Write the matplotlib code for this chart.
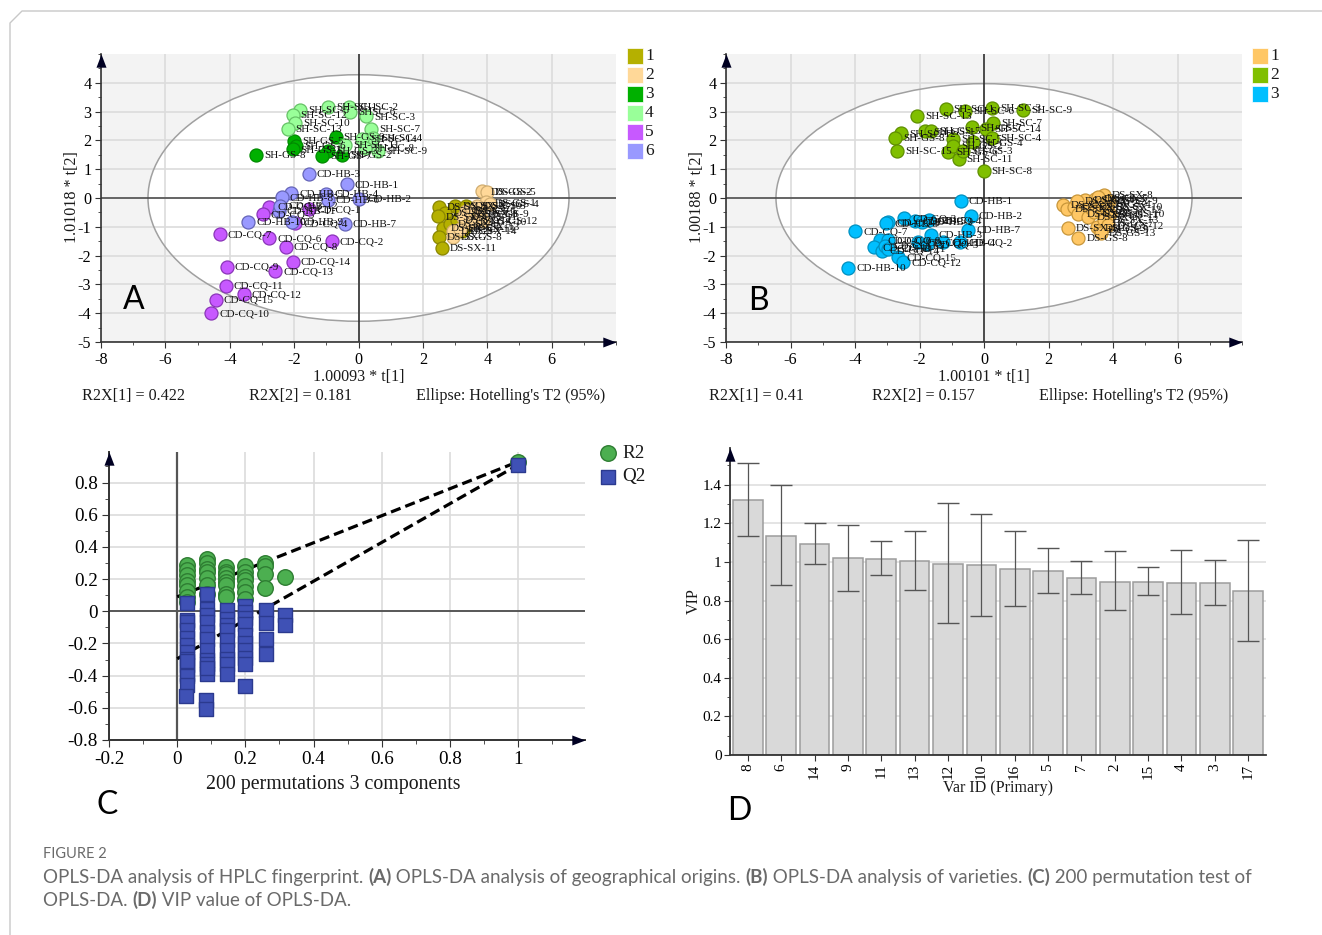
import matplotlib
matplotlib.use("Agg")
import matplotlib.pyplot as plt
from matplotlib.patches import Ellipse, Rectangle
from matplotlib.ticker import MultipleLocator, FuncFormatter

W, H = 1322, 935
SERIF = "Liberation Serif"
SANS = "Lato"
plt.rcParams["font.family"] = SERIF
plt.rcParams["axes.unicode_minus"] = False

# ---------------- Panel A ----------------
a_ds1_x = [2.49, 3.0, 2.7, 2.47, 3.43, 2.62, 2.83, 2.49, 2.59, 3.14, 3.35, 3.05, 3.3, 3.2]
a_ds1_y = [-0.3, -0.27, -0.53, -0.64, -0.55, -1.05, -0.9, -1.36, -1.72, -0.44, -0.27, -0.75, -1.0, -1.15]
a_ds1_l = ["DS-SX-1", "DS-SX-2", "DS-SX-3", "DS-SX-4", "DS-SX-8", "DS-SX-5", "DS-SX-6", "DS-SX-7", "DS-SX-11", "DS-SX-9", "DS-SX-10", "DS-SX-12", "DS-SX-13", "DS-SX-14"]
a_ds2_x = [3.85, 3.99, 3.97, 3.68, 3.35, 2.93, 2.93, 3.76, 4.07, 3.86, 3.5, 3.24, 3.14]
a_ds2_y = [0.23, 0.2, -0.15, -0.27, -0.44, -1.36, -1.13, -0.55, -0.2, -0.79, -0.84, -0.67, -1.07]
a_ds2_l = ["DS-GS-2", "DS-GS-5", "DS-GS-1", "DS-GS-3", "DS-GS-6", "DS-GS-8", "DS-GS-7", "DS-GS-9", "DS-GS-4", "DS-GS-12", "DS-GS-10", "DS-GS-11", "DS-GS-13"]
a_gs_x = [-0.71, -1.99, -1.95, -2.05, -0.95, -1.14, -0.5, -3.18]
a_gs_y = [2.13, 1.99, 1.82, 1.69, 1.64, 1.47, 1.49, 1.5]
a_gs_l = ["SH-GS-9", "SH-GS-5", "SH-GS-6", "SH-GS-1", "SH-GS-3", "SH-GS-7", "SH-GS-2", "SH-GS-8"]
a_sc_x = [-1.81, -2.05, -0.95, -0.28, -0.26, 0.24, -1.97, -2.2, 0.38, 0.46, 0.1, 0.62, -0.42, 0.2]
a_sc_y = [3.07, 2.89, 3.17, 3.17, 2.99, 2.83, 2.6, 2.39, 2.39, 2.1, 2.05, 1.64, 1.85, 1.75]
a_sc_l = ["SH-SC-5", "SH-SC-12", "SH-SC-1", "SH-SC-2", "SHSC-6", "SH-SC-3", "SH-SC-10", "SH-SC-13", "SH-SC-7", "SH-SC-4", "SH-SC-14", "SH-SC-9", "SH-SC-11", "SH-SC-8"]
a_cq_x = [-2.77, -2.98, -1.55, -1.97, -4.31, -2.77, -0.83, -2.26, -2.05, -4.09, -2.58, -4.12, -3.56, -4.43, -4.57]
a_cq_y = [-0.3, -0.55, -0.38, -0.88, -1.26, -1.4, -1.5, -1.69, -2.21, -2.38, -2.53, -3.04, -3.33, -3.53, -3.99]
a_cq_l = ["CD-CQ-3", "CD-CQ-5", "CD-CQ-1", "CD-CQ-4", "CD-CQ-7", "CD-CQ-6", "CD-CQ-2", "CD-CQ-8", "CD-CQ-14", "CD-CQ-9", "CD-CQ-13", "CD-CQ-11", "CD-CQ-12", "CD-CQ-15", "CD-CQ-10"]
a_hb_x = [-1.55, -0.36, -2.09, -2.38, -1.01, -0.95, 0.02, -2.48, -3.42, -2.07, -0.43, -2.43]
a_hb_y = [0.83, 0.47, 0.16, 0.02, 0.14, -0.07, -0.03, -0.44, -0.84, -0.84, -0.9, -0.27]
a_hb_l = ["CD-HB-3", "CD-HB-1", "CD-HB-5", "CD-HB-8", "CD-HB-4", "CD-HB-6", "CD-HB-2", "CD-HB-11", "CD-HB-10", "CD-HB-9", "CD-HB-7", "CD-HB-12"]
a_colors = ["#b5b000", "#ffd898", "#00b000", "#99ff99", "#c759ff", "#9999ff"]
a_edges = ["#8a8600", "#d0ad70", "#008a00", "#66c266", "#8a35b8", "#6565b8"]
a_legend = ["1", "2", "3", "4", "5", "6"]

# ---------------- Panel B ----------------
b_ds_x = [2.44, 2.57, 2.78, 3.14, 2.88, 3.45, 3.71, 3.55, 2.59, 2.93, 2.93, 3.24, 3.5, 3.3, 3.66, 3.87, 3.4, 3.7, 3.75, 3.6, 3.8, 3.82, 3.9, 3.72, 3.85, 3.62]
b_ds_y = [-0.24, -0.38, -0.32, -0.07, -0.09, -0.03, 0.1, 0.02, -1.04, -1.39, -0.55, -0.67, -1.02, -0.32, -0.2, -0.09, -0.5, -0.6, -0.85, -1.1, -0.4, -0.3, -0.55, -0.75, -0.95, -1.2]
b_ds_l = ["DS-SX-1", "DS-SX-2", "DS-SX-3", "DS-GS-1", "DS-SX-4", "DS-GS-2", "DS-SX-8", "DS-GS-5", "DS-SX-11", "DS-GS-8", "DS-SX-5", "DS-SX-6", "DS-GS-3", "DS-SX-7", "DS-GS-4", "DS-SX-9", "DS-GS-6", "DS-GS-11", "DS-GS-7", "DS-GS-9", "DS-SX-12", "DS-SX-10", "DS-GS-10", "DS-SX-13", "DS-GS-12", "DS-GS-13"]
b_sh_x = [-1.19, -0.59, 0.24, 1.2, -2.08, -0.36, 0.27, 0.06, 0.24, -2.57, -2.76, -1.83, -1.64, -2.7, -1.11, -0.95, -0.95, -0.79, -0.33, -0.64, -0.01]
b_sh_y = [3.09, 3.03, 3.14, 3.06, 2.86, 2.45, 2.6, 2.39, 2.08, 2.24, 2.08, 2.31, 2.34, 1.64, 1.61, 2.05, 1.82, 1.35, 1.93, 1.64, 0.95]
b_sh_l = ["SH-SC-1", "SH-SC-6", "SH-SC-3", "SH-SC-9", "SH-SC-13", "SH-GS-7", "SH-SC-7", "SH-SC-14", "SH-SC-4", "SH-SC-12", "SH-GS-8", "SH-GS-1", "SH-GS-5", "SH-SC-15", "SH-GS-6", "SH-SC-5", "SH-GS-2", "SH-SC-11", "SH-GS-4", "SH-GS-3", "SH-SC-8"]
b_cd_x = [-0.72, -0.41, -0.49, -4.0, -4.21, -2.97, -3.04, -2.47, -2.15, -1.7, -1.93, -1.65, -0.74, -1.26, -2.04, -3.23, -2.97, -3.41, -3.17, -2.66, -2.5, -3.07, -2.97, -1.78]
b_cd_y = [-0.1, -0.61, -1.11, -1.16, -2.44, -0.84, -0.88, -0.69, -0.79, -0.76, -0.84, -1.27, -1.54, -1.54, -1.54, -1.46, -1.46, -1.71, -1.83, -2.06, -2.23, -1.65, -1.77, -1.6]
b_cd_l = ["CD-HB-1", "CD-HB-2", "CD-HB-7", "CD-CQ-7", "CD-HB-10", "CD-CQ-9", "CD-HB-8", "CD-CQ-3", "CD-HB-5", "CD-CQ-4", "CD-HB-9", "CD-HB-3", "CD-CQ-2", "CD-HB-4", "CD-CQ-1", "CD-CQ-6", "CD-CQ-8", "CD-CQ-11", "CD-CQ-14", "CD-CQ-15", "CD-CQ-12", "CD-CQ-13", "CD-HB-11", "CD-CQ-5"]
b_colors = ["#ffc765", "#80bf00", "#00bfff"]
b_edges = ["#c8963a", "#5f8f00", "#0090c0"]
b_legend = ["1", "2", "3"]

# ---------------- Panel C ----------------
r2_x = [0.03] * 8 + [0.086, 0.088, 0.088, 0.088, 0.088, 0.088, 0.088] + [0.143] * 8 + [0.198] * 7 + [0.257] * 4 + [0.315, 1.0]
r2_y = [0.286, 0.255, 0.224, 0.19, 0.162, 0.125, 0.089, 0.058, 0.328, 0.297, 0.265, 0.245, 0.205, 0.162, 0.11, 0.276, 0.245, 0.234, 0.205, 0.183, 0.162, 0.11, 0.089, 0.28, 0.245, 0.215, 0.193, 0.155, 0.12, 0.079, 0.297, 0.28, 0.234, 0.147, 0.214, 0.93]
q2_x = [0.03] * 13 + [0.027] + [0.088] * 11 + [0.085, 0.085] + [0.145] * 9 + [0.2] * 10 + [0.259] * 4 + [0.315] * 2 + [1.0]
q2_y = [0.054, -0.056, -0.066, -0.118, -0.165, -0.21, -0.255, -0.295, -0.336, -0.388, -0.4, -0.46, -0.31, -0.529,
        0.11, 0.017, -0.02, -0.066, -0.129, -0.175, -0.243, -0.3, -0.326, -0.388, -0.35, -0.55, -0.606,
        0.006, -0.046, -0.085, -0.118, -0.18, -0.24, -0.295, -0.33, -0.388,
        0.031, -0.004, -0.04, -0.077, -0.149, -0.195, -0.239, -0.29, -0.326, -0.467,
        0.006, -0.073, -0.17, -0.263, -0.025, -0.087, 0.91]
r2_line_x = [0.0, 1.0]
r2_line_y = [0.09, 0.93]
q2_line_x = [0.0, 1.0]
q2_line_y = [-0.295, 0.91]

# ---------------- Panel D ----------------
var_ids = ["8", "6", "14", "9", "11", "13", "12", "10", "16", "5", "7", "2", "15", "4", "3", "17"]
vip = [1.32, 1.136, 1.093, 1.018, 1.015, 1.005, 0.99, 0.982, 0.963, 0.953, 0.918, 0.898, 0.898, 0.891, 0.891, 0.851]
vip_hi = [1.512, 1.40, 1.20, 1.193, 1.11, 1.16, 1.305, 1.25, 1.16, 1.072, 1.006, 1.055, 0.972, 1.062, 1.008, 1.115]
vip_lo = [1.132, 0.879, 0.989, 0.848, 0.93, 0.856, 0.684, 0.718, 0.772, 0.839, 0.835, 0.749, 0.83, 0.728, 0.779, 0.589]

GRID = "#dcdcdc"
AXC = "#333333"
ARROW_X = [(-1, -0.38), (0, 0), (-1, 0.38)]
ARROW_Y = [(-0.38, -1), (0, 0), (0.38, -1)]
ARROW_MS = 19

fig = plt.figure(figsize=(W / 100, H / 100), dpi=100, facecolor="white")


def axes_px(l, t, r, b):
    return fig.add_axes([l / W, 1 - b / H, (r - l) / W, (b - t) / H])


def plain_num(v, _=None):
    s = f"{v:.1f}"
    return s[:-2] if s.endswith(".0") else s


def y_arrow(ax):
    ax.plot(0, 1.0, marker=ARROW_Y, ms=ARROW_MS, color="#000022", mew=0, transform=ax.transAxes, clip_on=False, zorder=6)


def x_arrow(ax):
    ax.plot(1.0, 0, marker=ARROW_X, ms=ARROW_MS, color="#000022", mew=0, transform=ax.transAxes, clip_on=False, zorder=6)


def style_spines(ax, color=AXC, lw=1.2):
    for s in ("top", "right"):
        ax.spines[s].set_visible(False)
    for s in ("left", "bottom"):
        ax.spines[s].set_color(color)
        ax.spines[s].set_linewidth(lw)


def score_panel(rect, groups, colors, edges, ew, eh):
    ax = axes_px(*rect)
    ax.set_xlim(-8, 8)
    ax.set_ylim(-5, 5)
    ax.set_facecolor("#f3f3f3")
    ax.set_axisbelow(True)
    ax.add_patch(Ellipse((0, 0), 2 * ew, 2 * eh, fc="white", ec="none", zorder=0.2))
    ax.add_patch(Ellipse((0, 0), 2 * ew, 2 * eh, fc="none", ec="#a0a0a0", lw=1.1, zorder=1.5))
    ax.xaxis.set_minor_locator(MultipleLocator(1))
    ax.yaxis.set_minor_locator(MultipleLocator(0.5))
    ax.grid(True, which="major", color=GRID, lw=1.2)
    ax.tick_params(which="major", labelsize=11.6, length=4, color=AXC, pad=3)
    ax.tick_params(which="minor", length=2.5, color=AXC)
    ax.set_yticks([-5, -4, -3, -2, -1, 0, 1, 2, 3, 4])
    ax.set_xticks([-8, -6, -4, -2, 0, 2, 4, 6])
    ax.axhline(0, color="#444444", lw=1.1, zorder=1.8)
    ax.axvline(0, color="#222222", lw=1.1, zorder=1.8)
    for (gx, gy, gl), c, e in zip(groups, colors, edges):
        ax.scatter(gx, gy, s=88, color=c, edgecolor=e, lw=0.9, zorder=3)
        for x, y, t in zip(gx, gy, gl):
            ax.annotate(t, (x, y), xytext=(5.8, -0.5), textcoords="offset points", ha="left", va="center",
                        fontsize=8.0, color="#111111", zorder=4, annotation_clip=False)
    style_spines(ax)
    x_arrow(ax)
    y_arrow(ax)
    return ax


score_panel((101, 54, 616, 342),
            [(a_ds1_x, a_ds1_y, a_ds1_l), (a_ds2_x, a_ds2_y, a_ds2_l), (a_gs_x, a_gs_y, a_gs_l),
             (a_sc_x, a_sc_y, a_sc_l), (a_cq_x, a_cq_y, a_cq_l), (a_hb_x, a_hb_y, a_hb_l)],
            a_colors, a_edges, 6.54, 4.28)
score_panel((726, 54, 1242, 342),
            [(b_ds_x, b_ds_y, b_ds_l), (b_sh_x, b_sh_y, b_sh_l), (b_cd_x, b_cd_y, b_cd_l)],
            b_colors, b_edges, 6.45, 3.97)

# Panel C
axc = axes_px(109, 452, 585, 740)
axc.set_xlim(-0.2, 1.196)
axc.set_ylim(-0.8, 0.99)
axc.set_axisbelow(True)
axc.xaxis.set_major_locator(MultipleLocator(0.2))
axc.xaxis.set_minor_locator(MultipleLocator(0.1))
axc.yaxis.set_major_locator(MultipleLocator(0.2))
axc.yaxis.set_minor_locator(MultipleLocator(0.1))
axc.xaxis.set_major_formatter(FuncFormatter(plain_num))
axc.yaxis.set_major_formatter(FuncFormatter(plain_num))
axc.grid(True, which="major", color=GRID, lw=1.2)
axc.tick_params(which="major", labelsize=13.8, length=5, color=AXC, pad=3)
axc.tick_params(which="minor", length=3, color=AXC)
axc.axhline(0, color="#333333", lw=1.1, zorder=1.5)
axc.axvline(0, color="#555555", lw=1.6, zorder=1.5)
axc.scatter(r2_x, r2_y, s=125, color="#4caf50", edgecolor="#2e7d32", lw=1, zorder=3)
axc.plot(r2_line_x, r2_line_y, color="black", lw=2.3, ls=(0, (3.2, 1.6)), zorder=2.5)
axc.plot(q2_line_x, q2_line_y, color="black", lw=2.3, ls=(0, (3.2, 1.6)), zorder=2.5)
axc.scatter(q2_x, q2_y, s=92, marker="s", color="#3f51b5", edgecolor="#2b3a8f", lw=1, zorder=4)
style_spines(axc, lw=1.4)
x_arrow(axc)
y_arrow(axc)

# Panel D
axd = axes_px(730, 448, 1266, 755)
pos = list(range(len(var_ids)))
axd.set_xlim(-0.54, 15.54)
axd.set_ylim(0, 1.59)
axd.set_axisbelow(True)
axd.yaxis.set_major_locator(MultipleLocator(0.2))
axd.yaxis.set_minor_locator(MultipleLocator(0.1))
axd.yaxis.set_major_formatter(FuncFormatter(plain_num))
axd.grid(True, axis="y", which="major", color=GRID, lw=1.1)
axd.bar(pos, vip, width=0.89, color="#d9d9d9", edgecolor="#9c9c9c", lw=1.1, zorder=2)
err_lo = [v - l for v, l in zip(vip, vip_lo)]
err_hi = [h - v for v, h in zip(vip, vip_hi)]
axd.errorbar(pos, vip, yerr=[err_lo, err_hi], fmt="none", ecolor="#555555", elinewidth=0.9, capsize=8, capthick=1.0, zorder=3)
axd.set_xticks(pos)
axd.set_xticklabels(var_ids, rotation=90)
axd.tick_params(axis="x", labelsize=11, length=4, color=AXC, pad=2)
axd.tick_params(axis="y", which="major", labelsize=11, length=4, color=AXC, pad=2)
axd.tick_params(axis="y", which="minor", length=2.5, color=AXC)
style_spines(axd, lw=1.3)
y_arrow(axd)

# Overlay in pixel coordinates for figure annotations
ov = fig.add_axes([0, 0, 1, 1], zorder=10)
ov.set_xlim(0, W)
ov.set_ylim(H, 0)
ov.axis("off")


def T(x, y, s, **kw):
    kw.setdefault("ha", "left")
    kw.setdefault("va", "center")
    kw.setdefault("color", "#1a1a1a")
    return ov.text(x, y, s, **kw)


# page frame
ov.plot([1322, 22, 10, 10], [11, 11, 23, 935], color="#c8c8c8", lw=1.0, clip_on=False, solid_joinstyle="round")

# score panel texts
for (cx, ylab, xlab, ylab_x, r1, r2, rx1, rx2, ex) in [
    (359, "1.01018 * t[2]", "1.00093 * t[1]", 72, "R2X[1] = 0.422", "R2X[2] = 0.181", 82, 249, 416),
    (983.5, "1.00188 * t[2]", "1.00101 * t[1]", 697, "R2X[1] = 0.41", "R2X[2] = 0.157", 709, 872, 1039),
]:
    T(cx, 377, xlab, fontsize=11.6, ha="center")
    T(ylab_x, 197, ylab, fontsize=11.6, ha="center", rotation=90)
    T(rx1, 396, r1, fontsize=11.6)
    T(rx2, 396, r2, fontsize=11.6)
    T(ex, 396, "Ellipse: Hotelling's T2 (95%)", fontsize=11.6)

# legends A and B
for i, (c, t) in enumerate(zip(a_colors, a_legend)):
    yy = 55.7 + i * 19.1
    ov.add_patch(Rectangle((626.5, yy - 8), 16, 16, fc=c, ec="white", lw=0.5))
    T(645, yy, t, fontsize=12.5)
for i, (c, t) in enumerate(zip(b_colors, b_legend)):
    yy = 55.7 + i * 19.1
    ov.add_patch(Rectangle((1251.5, yy - 8), 16, 16, fc=c, ec="white", lw=0.5))
    T(1270, yy, t, fontsize=12.5)

# legend C
ov.scatter([608], [453], s=125, color="#4caf50", edgecolor="#2e7d32", lw=1)
ov.scatter([608], [477], s=92, marker="s", color="#3f51b5", edgecolor="#2b3a8f", lw=1)
T(622, 453, "R2", fontsize=13.8)
T(622, 477, "Q2", fontsize=13.8)
T(333, 784, "200 permutations 3 components", fontsize=14.3, ha="center")

# panel D labels
T(998, 788, "Var ID (Primary)", fontsize=11.6, ha="center")
T(694, 601, "VIP", fontsize=11.6, ha="center", rotation=90)

# panel letters
for x, y, s in [(134, 300, "A"), (758, 301, "B"), (107, 805, "C"), (739, 811, "D")]:
    T(x, y, s, fontsize=23, ha="center", family=SANS, color="black")

# caption
CAP = "#6a6a6a"
T(43, 854, "FIGURE 2", fontsize=10.5, family=SANS, color=CAP)


def runs(x, y, parts, size):
    r = fig.canvas.get_renderer()
    for s, bold in parts:
        t = T(x, y, s, fontsize=size, family=SANS, color=CAP, weight="bold" if bold else "normal")
        x += t.get_window_extent(r).width


runs(43, 877, [("OPLS-DA analysis of HPLC fingerprint. ", False), ("(A)", True), (" OPLS-DA analysis of geographical origins. ", False),
               ("(B)", True), (" OPLS-DA analysis of varieties. ", False), ("(C)", True), (" 200 permutation test of", False)], 13.52)
runs(43, 900, [("OPLS-DA. ", False), ("(D)", True), (" VIP value of OPLS-DA.", False)], 13.52)

fig.savefig("out.png", dpi=100)
